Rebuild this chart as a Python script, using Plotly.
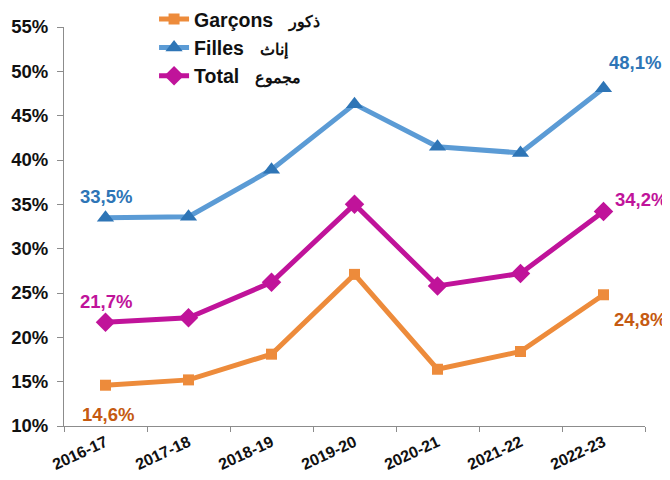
import plotly.graph_objects as go

years = ["2016-17", "2017-18", "2018-19", "2019-20", "2020-21", "2021-22", "2022-23"]
garcons = [14.6, 15.2, 18.1, 27.1, 16.4, 18.4, 24.8]
filles = [33.5, 33.6, 38.9, 46.3, 41.5, 40.8, 48.1]
total = [21.7, 22.2, 26.2, 35.0, 25.8, 27.2, 34.2]
names_fr = ["Garçons", "Filles", "Total"]
names_ar = ["ذكور", "إناث", "مجموع"]
y_ticks = [10, 15, 20, 25, 30, 35, 40, 45, 50, 55]

FONT = "Liberation Sans, Arial, sans-serif"
def legend_name(fr, ar):
    return f"{fr}&nbsp;&nbsp; <span style='font-size:16px'>{ar}</span>"

fig = go.Figure()

fig.add_trace(go.Scatter(
    x=years, y=garcons, name=legend_name(names_fr[0], names_ar[0]), mode="lines+markers",
    line=dict(color="#ED8B3B", width=5),
    marker=dict(symbol="square", size=11, color="#ED8B3B"),
))
fig.add_trace(go.Scatter(
    x=years, y=filles, name=legend_name(names_fr[1], names_ar[1]), mode="lines+markers",
    line=dict(color="#5B9BD5", width=5),
    marker=dict(symbol="triangle-up", size=15, color="#2E75B6"),
))
fig.add_trace(go.Scatter(
    x=years, y=total, name=legend_name(names_fr[2], names_ar[2]), mode="lines+markers",
    line=dict(color="#C0139A", width=5),
    marker=dict(symbol="diamond", size=15, color="#C0139A"),
))

def fmt(v):
    return f"{v:.1f}".replace(".", ",") + "%"

labels = [
    (0, filles, "#2E75B6", 0, 21),
    (0, total, "#C0139A", 0, 21),
    (0, garcons, "#C55A11", 2, -29),
    (6, filles, "#2E75B6", 31, 26),
    (6, total, "#C0139A", 37, 12),
    (6, garcons, "#C55A11", 36, -25),
]
for i, series, col, xs, ys in labels:
    fig.add_annotation(x=years[i], y=series[i], text=fmt(series[i]), showarrow=False,
                       xshift=xs, yshift=ys,
                       font=dict(family=FONT, size=18.5, color=col, weight="bold"))

fig.update_layout(
    width=662, height=472,
    margin=dict(l=56, r=25, t=19, b=54, autoexpand=False),
    paper_bgcolor="white", plot_bgcolor="white",
    showlegend=True,
    legend=dict(x=0.155, y=1.068, xanchor="left", yanchor="top",
                font=dict(family=FONT, size=19.5, color="#111111", weight="bold"),
                bgcolor="rgba(0,0,0,0)", itemwidth=30, tracegroupgap=0),
    xaxis=dict(type="category", range=[-0.5, 6.5], showline=True, linecolor="#8C8C8C",
               linewidth=1, ticks="outside", tickson="boundaries", ticklen=5,
               tickcolor="#8C8C8C", showgrid=False, tickangle=-25, automargin=False,
               tickfont=dict(family=FONT, size=16, color="#111111", weight="bold")),
    yaxis=dict(range=[10, 55], tickvals=y_ticks, ticktext=[f"{t}%" for t in y_ticks],
               showline=True, linecolor="#8C8C8C", linewidth=1, ticks="outside",
               ticklen=6, tickcolor="#8C8C8C", showgrid=False, zeroline=False, automargin=False,
               ticklabelstandoff=5,
               tickfont=dict(family=FONT, size=18.5, color="#111111", weight="bold")),
)

fig.write_html("out.html")
